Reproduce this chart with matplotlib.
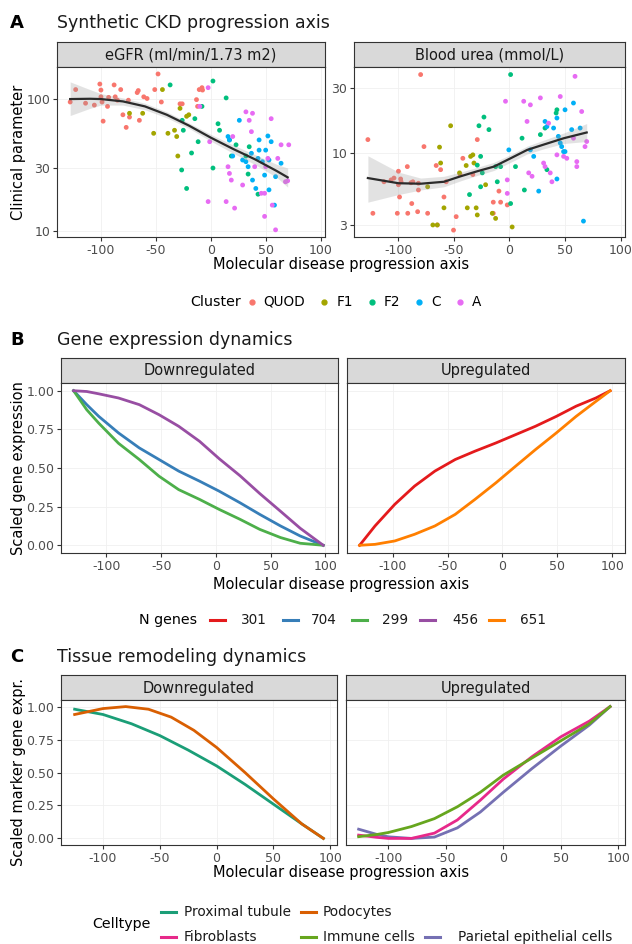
import numpy as np
import matplotlib
matplotlib.use("Agg")
import matplotlib.pyplot as plt
from matplotlib.lines import Line2D
from matplotlib.ticker import NullLocator

plt.rcParams["font.family"] = ["DejaVu Sans"]
plt.rcParams["axes.unicode_minus"] = False

# ---------------- data ----------------
clusters = ["QUOD", "F1", "F2", "C", "A"]
cluster_colors = ["#F8766D", "#A3A500", "#00BF7D", "#00B0F6", "#E76BF3"]

# panel A, eGFR (x = progression axis, y = ml/min/1.73 m2)
egfr_quod = [(-128, 95), (-123, 118), (-114, 93), (-106, 90), (-101, 130), (-100, 117), (-100, 104),
             (-99, 95), (-98, 68), (-94, 88), (-93, 103), (-88, 128), (-87, 104), (-82, 118), (-85, 98),
             (-80, 76), (-77, 61), (-75, 98), (-74, 73), (-66, 116), (-65, 69), (-61, 104), (-58, 101),
             (-51, 118), (-48, 155), (-45, 95), (-28, 92), (-26, 92), (-13, 99), (-10.5, 118), (-8, 122),
             (-7.5, 117), (-12, 88), (-67, 112)]
egfr_f1 = [(-74, 78), (-62, 78), (-52, 55), (-44, 118), (-39, 55), (-33, 58), (-31, 52), (-28, 85),
           (-30, 37), (-22, 74), (-20, 76)]
egfr_f2 = [(-37, 128), (-26, 69), (-25, 58), (-17.5, 39), (-14.5, 71), (-11.5, 47.5), (-26.5, 29),
           (-22, 21), (-8, 88), (2, 137), (2, 30), (6.6, 65), (8, 58), (14, 102), (17, 49), (23, 45),
           (18.7, 37), (34, 27), (35, 43.5), (43, 19), (32, 37)]
egfr_c = [(15.7, 52), (17, 49), (20, 37), (26, 69), (29, 34.5), (32, 33.5), (34, 30.7), (37, 38.8),
          (38, 24.3), (41, 21), (43, 35.5), (44, 49), (44, 41), (47, 33.5), (49, 26.5), (50, 41),
          (52, 52.5), (53, 34.5), (55, 47.5), (58, 15.7), (59, 25.8), (64, 32.6), (53, 20.5)]
egfr_a = [(-2.4, 122), (-10, 88), (-2.4, 16.7), (-1, 47.5), (14, 16.7), (15.7, 30.7), (17, 27.3),
          (18.7, 24.3), (20, 52), (21.7, 14.9), (29, 22.3), (32, 80), (35, 69), (37, 56.6), (38, 78),
          (40, 30.7), (46, 19.3), (49, 19.3), (50, 30.7), (52, 35.5), (55, 71), (56, 15.7), (49, 12.9),
          (59, 10.2), (61, 35.5), (64, 45), (68, 23.6), (70, 24), (71, 45)]

egfr_fit_x = [-128, -110, -100, -80, -60, -40, -20, 0, 20, 40, 60, 70]
egfr_fit = [100, 100.5, 100, 96, 88, 76, 63, 51, 42, 35, 28.5, 25.5]
egfr_lo = [75, 85, 90, 90, 83, 72, 60, 48, 39, 32, 25.5, 21.5]
egfr_hi = [135, 118, 110, 102, 93, 80, 66, 54, 45, 38, 32, 30]

# panel A, blood urea (mmol/L)
urea_quod = [(-127.5, 12.6), (-123, 3.65), (-113, 6.2), (-106.6, 6.4), (-104, 6.6), (-101, 3.65),
             (-100, 7.4), (-100, 5.9), (-99, 4.8), (-98, 6.5), (-97.6, 6.2), (-92, 8.0), (-91.6, 3.65),
             (-88.7, 6.1), (-88, 4.3), (-87, 6.2), (-82.7, 3.75), (-82, 6.05), (-82, 5.4), (-80, 37.6),
             (-77, 11.2), (-73.7, 3.65), (-66, 8.15), (-65, 3.0), (-62, 7.6), (-59, 4.8), (-57, 6.2),
             (-48, 3.45), (-50.4, 2.75), (-44.5, 7.0), (-42, 9.2), (-33, 7.0), (-29, 12.6), (-14.6, 4.4),
             (-9.5, 5.3), (-8, 4.4), (-2, 4.2), (-14.6, 3.65)]
urea_f1 = [(-73.7, 5.7), (-69, 3.0), (-65, 3.0), (-63, 11.1), (-62, 8.5), (-59, 4.0), (-53, 15.9),
           (-45, 7.2), (-39, 8.15), (-38, 4.0), (-35, 9.5), (-33, 9.75), (-32, 8.5), (-30, 4.0),
           (-29, 3.55), (-21.5, 5.9), (-15.5, 3.65), (-12.5, 3.35), (2.4, 2.9)]
urea_f2 = [(-29, 8.2), (-27.5, 15.9), (-26, 9.5), (-23, 18.4), (-18.5, 14.9), (-26, 5.7), (-36, 5.0),
           (-24.5, 7.2), (-12.5, 8.0), (-11, 6.2), (-8, 8.0), (1, 37.6), (1, 4.3), (5.4, 8.0),
           (11.3, 12.9), (13.4, 5.4), (27.8, 13.7), (32, 15.3), (33.7, 7.6), (42.7, 20.8), (42, 19.7)]
urea_c = [(-0.6, 10.6), (18.8, 10.6), (21.8, 9.5), (26.3, 5.3), (32, 17.1), (33.7, 15.7), (39.7, 15.3),
          (42.7, 18.1), (42.7, 6.5), (44, 13.3), (45.7, 11.9), (47, 11.2), (48.7, 10.3), (50, 10.3),
          (50, 20.8), (56, 14.9), (57.6, 23.3), (63.6, 15.3), (66.6, 3.2)]
urea_a = [(-3.6, 24), (-2, 6.4), (-2, 5.1), (12.8, 24), (15.8, 17.1), (17.3, 7.2), (18.8, 22.6),
          (20.3, 6.8), (27.8, 25.4), (30.7, 8.5), (32, 8.0), (35.2, 16.6), (36.7, 7.2), (38.2, 6.2),
          (42.7, 9.75), (45.7, 26), (48.7, 9.5), (51.6, 9.2), (57.6, 12.9), (59, 36.5), (60.6, 8.7),
          (60.6, 8.0), (65, 20.2), (68, 11.2), (69.5, 12.2)]

urea_fit_x = [-127.5, -100, -80, -59, -44, -29, -14, 1, 16, 31, 49, 69.5]
urea_fit = [6.6, 6.05, 6.0, 6.2, 6.8, 7.4, 8.0, 9.2, 10.6, 11.6, 12.9, 14.2]
urea_lo = [4.4, 5.0, 5.4, 5.7, 6.3, 6.9, 7.5, 8.6, 9.9, 10.8, 11.8, 12.2]
urea_hi = [9.6, 7.3, 6.6, 6.8, 7.3, 7.9, 8.6, 9.8, 11.3, 12.5, 14.1, 16.5]

# panel B, gene expression curves
ngenes = ["301", "704", "299", "456", "651"]
ngenes_colors = ["#E41A1C", "#377EB8", "#4DAF4A", "#984EA3", "#FF7F00"]
down_x = [-130, -118, -107, -89, -70, -52, -34, -15, 3, 22, 40, 59, 77, 98]
g704 = [1.0, 0.91, 0.834, 0.727, 0.63, 0.555, 0.48, 0.415, 0.35, 0.275, 0.2, 0.125, 0.06, 0.0]
g299 = [1.0, 0.877, 0.79, 0.66, 0.555, 0.447, 0.36, 0.297, 0.232, 0.168, 0.103, 0.05, 0.013, 0.0]
g456 = [1.0, 0.995, 0.98, 0.953, 0.91, 0.845, 0.77, 0.673, 0.56, 0.45, 0.335, 0.22, 0.11, 0.0]
up_x = [-130, -116, -98, -80, -61.5, -43, -25, -6, 12, 30, 49, 67, 85, 98]
g301 = [0.0, 0.125, 0.265, 0.383, 0.48, 0.555, 0.609, 0.662, 0.716, 0.77, 0.834, 0.9, 0.953, 1.0]
g651 = [0.0, 0.006, 0.028, 0.071, 0.125, 0.2, 0.297, 0.404, 0.512, 0.619, 0.727, 0.834, 0.931, 1.0]

# panel C, cell type marker curves
pt_x = [-125, -100, -75, -50, -25, 0, 25, 50, 75, 94]
proximal = [0.98, 0.94, 0.87, 0.78, 0.67, 0.55, 0.41, 0.26, 0.11, 0.0]
podo_x = [-125, -100, -80, -60, -40, -20, 0, 25, 50, 75, 94]
podocytes = [0.94, 0.985, 1.0, 0.98, 0.92, 0.82, 0.69, 0.5, 0.3, 0.11, 0.0]
upc_x = [-126, -110, -100, -80, -60, -40, -20, 0, 25, 50, 75, 93]
immune = [0.013, 0.03, 0.045, 0.09, 0.15, 0.24, 0.35, 0.48, 0.61, 0.74, 0.87, 1.0]
fibro = [0.025, 0.008, 0.0, 0.0, 0.04, 0.14, 0.29, 0.45, 0.62, 0.77, 0.89, 1.0]
parietal = [0.07, 0.03, 0.012, 0.0, 0.01, 0.08, 0.2, 0.35, 0.53, 0.7, 0.86, 1.0]
cell_colors = {"Proximal tubule": "#1B9E77", "Podocytes": "#D95F02", "Fibroblasts": "#E7298A",
               "Immune cells": "#66A61E", "Parietal epithelial cells": "#7570B3"}

# ---------------- layout helpers (pixel coords) ----------------
W, H = 632, 944
fig = plt.figure(figsize=(W / 100, H / 100), dpi=100)
renderer = fig.canvas.get_renderer()


def box(l, t, r, b):
    return [l / W, 1 - b / H, (r - l) / W, (b - t) / H]


def fx(x):
    return x / W


def fy(y):
    return 1 - y / H


def panel(l, t, r, b, xlim, ylim):
    ax = fig.add_axes(box(l, t, r, b))
    ax.set_xlim(xlim)
    ax.set_ylim(ylim)
    for s in ax.spines.values():
        s.set_color("#333333")
        s.set_linewidth(0.8)
    ax.grid(True, color="#F0F0F0", lw=0.6)
    ax.set_axisbelow(True)
    ax.tick_params(color="#333333", labelcolor="#4D4D4D", labelsize=9, length=3, width=0.8, pad=2)
    ax.set_xticks([-100, -50, 0, 50, 100])
    return ax


def strip(l, t, r, b, label):
    ax = fig.add_axes(box(l, t, r, b))
    ax.set_facecolor("#D9D9D9")
    ax.set_xticks([])
    ax.set_yticks([])
    for s in ax.spines.values():
        s.set_color("#333333")
        s.set_linewidth(0.8)
    ax.text(0.5, 0.48, label, ha="center", va="center", fontsize=10.5, color="#1A1A1A",
            transform=ax.transAxes)


def heading(y, letter, title):
    fig.text(fx(10), fy(y), letter, fontsize=13, fontweight="bold", va="center", ha="left")
    fig.text(fx(57), fy(y), title, fontsize=12.5, va="center", ha="left", color="#1A1A1A")


def key_line(x0, y, color, label, xt):
    fig.add_artist(Line2D([fx(x0), fx(x0 + 15)], [fy(y), fy(y)], color=color, lw=2.2,
                          transform=fig.transFigure))
    fig.text(fx(xt), fy(y), label, fontsize=9.8, va="center", ha="left", color="#1A1A1A")


# ---------------- panel A ----------------
heading(23, "A", "Synthetic CKD progression axis")
xl = (-140, 104)
strip(57, 42, 325, 67, "eGFR (ml/min/1.73 m2)")
strip(354, 42, 625, 67, "Blood urea (mmol/L)")

axA1 = panel(57, 67, 325, 237, xl, (9.0, 175))
axA2 = panel(354, 67, 625, 237, xl, (2.45, 42.7))
for ax, groups, fx_, fit, lo, hi, ticks in [
        (axA1, [egfr_quod, egfr_f1, egfr_f2, egfr_c, egfr_a], egfr_fit_x, egfr_fit, egfr_lo, egfr_hi, [10, 30, 100]),
        (axA2, [urea_quod, urea_f1, urea_f2, urea_c, urea_a], urea_fit_x, urea_fit, urea_lo, urea_hi, [3, 10, 30])]:
    ax.set_yscale("log")
    ax.set_yticks(ticks)
    ax.set_yticklabels([str(t) for t in ticks])
    ax.yaxis.set_minor_locator(NullLocator())
    for pts, col in zip(groups, cluster_colors):
        arr = np.array(pts)
        ax.scatter(arr[:, 0], arr[:, 1], s=12, color=col, edgecolors="none", zorder=2)
    ax.fill_between(fx_, lo, hi, color="#9A9A9A", alpha=0.28, lw=0, zorder=3)
    ax.plot(fx_, fit, color="#2B2B2B", lw=1.6, zorder=4)

fig.text(fx(341), fy(265), "Molecular disease progression axis", fontsize=10.5, ha="center", va="center")
fig.text(fx(19), fy(152), "Clinical parameter", fontsize=10.5, rotation=90, ha="center", va="center")

# legend A, laid out item by item from measured text widths
t = fig.text(fx(190), fy(302), "Cluster", fontsize=10.3, va="center", ha="left")
cur = 190 + t.get_window_extent(renderer).width
for name, col in zip(clusters, cluster_colors):
    cur += 3
    fig.add_artist(Line2D([fx(cur + 8)], [fy(302)], marker="o", ms=3.5, color=col, lw=0,
                          transform=fig.transFigure))
    cur += 16 + 4
    t = fig.text(fx(cur), fy(302), name, fontsize=9.8, va="center", ha="left")
    cur += t.get_window_extent(renderer).width + 8

# ---------------- panel B ----------------
heading(340, "B", "Gene expression dynamics")
xb = (-141.5, 111.5)
strip(61, 358, 338, 383, "Downregulated")
strip(347, 358, 625, 383, "Upregulated")
axB1 = panel(61, 383, 338, 553, xb, (-0.05, 1.05))
axB2 = panel(347, 383, 625, 553, xb, (-0.05, 1.05))
for ax in (axB1, axB2):
    ax.set_yticks([0, 0.25, 0.5, 0.75, 1.0])
    ax.set_yticklabels(["0.00", "0.25", "0.50", "0.75", "1.00"])
axB2.tick_params(axis="y", left=False, labelleft=False)
axB1.plot(down_x, g704, color=ngenes_colors[1], lw=2)
axB1.plot(down_x, g299, color=ngenes_colors[2], lw=2)
axB1.plot(down_x, g456, color=ngenes_colors[3], lw=2)
axB2.plot(up_x, g301, color=ngenes_colors[0], lw=2)
axB2.plot(up_x, g651, color=ngenes_colors[4], lw=2)

fig.text(fx(341), fy(584), "Molecular disease progression axis", fontsize=10.5, ha="center", va="center")
fig.text(fx(19), fy(468), "Scaled gene expression", fontsize=10.5, rotation=90, ha="center", va="center")

fig.text(fx(139), fy(620), "N genes", fontsize=10.3, va="center", ha="left")
for kx, tx, name, col in zip([210, 283, 352, 420, 489], [241, 311, 382, 452, 520], ngenes, ngenes_colors):
    key_line(kx, 620, col, name, tx)

# ---------------- panel C ----------------
heading(657, "C", "Tissue remodeling dynamics")
xc = (-137, 106)
strip(61, 675, 337, 700, "Downregulated")
strip(346, 675, 625, 700, "Upregulated")
axC1 = panel(61, 700, 337, 845, xc, (-0.05, 1.05))
axC2 = panel(346, 700, 625, 845, xc, (-0.05, 1.05))
for ax in (axC1, axC2):
    ax.set_yticks([0, 0.25, 0.5, 0.75, 1.0])
    ax.set_yticklabels(["0.00", "0.25", "0.50", "0.75", "1.00"])
axC2.tick_params(axis="y", left=False, labelleft=False)
axC1.plot(pt_x, proximal, color=cell_colors["Proximal tubule"], lw=2)
axC1.plot(podo_x, podocytes, color=cell_colors["Podocytes"], lw=2)
axC2.plot(upc_x, parietal, color=cell_colors["Parietal epithelial cells"], lw=2)
axC2.plot(upc_x, fibro, color=cell_colors["Fibroblasts"], lw=2)
axC2.plot(upc_x, immune, color=cell_colors["Immune cells"], lw=2)

fig.text(fx(341), fy(872), "Molecular disease progression axis", fontsize=10.5, ha="center", va="center")
fig.text(fx(19), fy(772), "Scaled marker gene expr.", fontsize=10.5, rotation=90, ha="center", va="center")

fig.text(fx(92), fy(924), "Celltype", fontsize=10.3, va="center", ha="left")
key_line(161, 912, cell_colors["Proximal tubule"], "Proximal tubule", 184)
key_line(301, 912, cell_colors["Podocytes"], "Podocytes", 323)
key_line(161, 937, cell_colors["Fibroblasts"], "Fibroblasts", 184)
key_line(301, 937, cell_colors["Immune cells"], "Immune cells", 323)
key_line(425, 937, cell_colors["Parietal epithelial cells"], "Parietal epithelial cells", 458)

fig.savefig("out.png", dpi=100)
